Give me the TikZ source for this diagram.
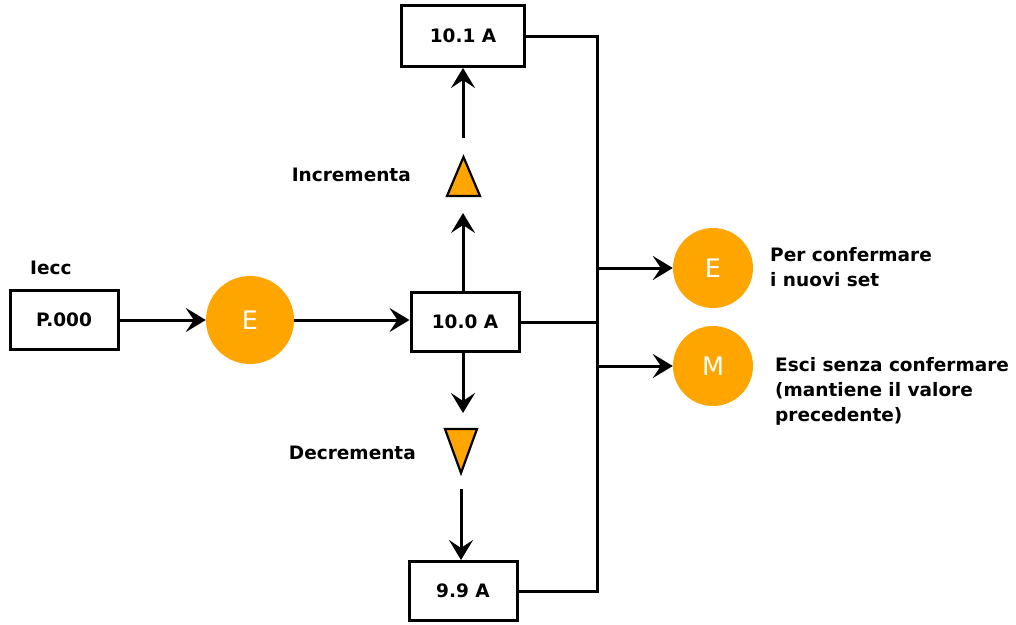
\documentclass[tikz,border=0pt]{standalone}
\usepackage{fontspec}
\setmainfont{DejaVu Sans}
\usetikzlibrary{arrows.meta}
\definecolor{orng}{HTML}{FFA500}
\begin{document}
\begin{tikzpicture}[x=1pt,y=-1pt,
  box/.style={draw, line width=3pt, fill=white, inner sep=0pt,
    font=\bfseries\fontsize{18.5}{20}\selectfont},
  key/.style={circle, fill=orng, text=white, inner sep=0pt,
    font=\fontsize{25.5}{27}\selectfont},
  lbl/.style={inner sep=0pt, align=left,
    font=\bfseries\fontsize{18.5}{25}\selectfont},
  arr/.style={line width=3pt, -{Stealth[length=20pt,width=24pt,inset=8pt]}},
  ln/.style={line width=3pt},
  tri/.style={draw, line width=2.2pt, fill=orng, line join=miter}]
\useasboundingbox (0,0) rectangle (1016,624);

% boxes
\node[box, minimum width=108pt, minimum height=59pt] (p) at (64,320) {P.000};
\node[box, minimum width=108pt, minimum height=59pt] (b100) at (465,322) {10.0 A};
\node[box, minimum width=123pt, minimum height=61pt] (b101) at (463,36) {10.1 A};
\node[box, minimum width=108pt, minimum height=59pt] (b99) at (463,591) {9.9 A};

% circles
\node[key, minimum size=88pt] (e1) at (250,320) {E};
\node[key, minimum size=80pt] (e2) at (713,268) {E};
\node[key, minimum size=80pt] (m) at (713,366) {M};

% labels
\node[lbl, anchor=west] (iecc) at (30,268) {Iecc};
\node[lbl, anchor=east] (inc) at (411,175) {Incrementa};
\node[lbl, anchor=east] (dec) at (416,453) {Decrementa};
\node[lbl, anchor=west] (conf) at (770,267) {Per confermare\\i nuovi set};
\node[lbl, anchor=west] (esci) at (775,391) {Esci senza confermare\\(mantiene il valore\\precedente)};

% triangles
\draw[tri] (447,196) -- (480,196) -- (463.5,157) -- cycle;
\draw[tri] (445,429) -- (477,429) -- (461,473) -- cycle;

% coordinates
\coordinate (incTip) at (463,213);
\coordinate (incStart) at (463,138);
\coordinate (decTip) at (463,413);
\coordinate (decStart) at (461,489);
\coordinate (busX) at (597,0);

% arrows
\draw[arr] (p.east) -- (e1.west);
\draw[arr] (e1.east) -- (b100.west |- e1.east);
\draw[arr] (b100.north -| incTip) -- (incTip);
\draw[arr] (incStart) -- (b101.south -| incStart);
\draw[arr] (b100.south -| decTip) -- (decTip);
\draw[arr] (decStart) -- (b99.north -| decStart);

% bus
\draw[ln] (b101.east) -- (b101.east -| busX) -- (b99.east -| busX) -- (b99.east);
\draw[ln] (b100.east) -- (b100.east -| busX);
\draw[arr] (e2.west -| busX) -- (e2.west);
\draw[arr] (m.west -| busX) -- (m.west);
\end{tikzpicture}
\end{document}
